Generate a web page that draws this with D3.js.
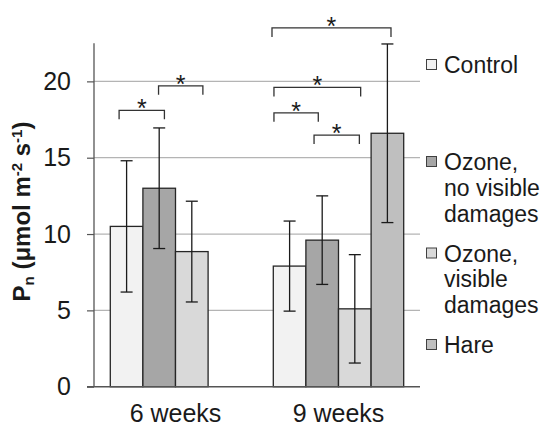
<!DOCTYPE html>
<html>
<head>
<meta charset="utf-8">
<script src="https://cdn.jsdelivr.net/npm/d3@7"></script>
<style>
  html, body { margin: 0; padding: 0; background: #fff; }
  svg { display: block; }
  text { font-family: "Liberation Sans", Arial, sans-serif; fill: #1a1a1a; }
</style>
</head>
<body>
<svg id="chart" width="553" height="428"></svg>
<script>
// ---------- data ----------
const categories = ["6 weeks", "9 weeks"];
const seriesNames = ["Control", "Ozone, no visible damages", "Ozone, visible damages", "Hare"];
const legendLines = [["Control"], ["Ozone,", "no visible", "damages"], ["Ozone,", "visible", "damages"], ["Hare"]];
const control = [10.5, 7.9];
const ozoneNoVisible = [13.0, 9.6];
const ozoneVisible = [8.85, 5.1];
const hare = [null, 16.6];
const controlErr = [4.3, 2.95];
const ozoneNoVisibleErr = [3.95, 2.9];
const ozoneVisibleErr = [3.3, 3.55];
const hareErr = [null, 5.85];
const yTicks = [0, 5, 10, 15, 20];
// significance brackets: category, span in bar units within the group, level in Pn units
const bracketCat = [0, 0, 1, 1, 1, 1];
const bracketFrom = [0.27, 1.48, -0.04, 0.02, 0.02, 1.25];
const bracketTo = [1.66, 2.84, 3.61, 2.68, 1.38, 2.64];
const bracketLevel = [18.1, 19.71, 23.5, 19.6, 17.94, 16.48];
const bracketLabel = ["*", "*", "*", "*", "*", "*"];

// ---------- layout ----------
const colors = ["#f2f2f2", "#a6a6a6", "#d9d9d9", "#bfbfbf"];
const plotLeft = 94, plotRight = 420, plotTop = 43.2, plotBottom = 386.7;
const svg = d3.select("#chart");

const values = [control, ozoneNoVisible, ozoneVisible, hare];
const errors = [controlErr, ozoneNoVisibleErr, ozoneVisibleErr, hareErr];

const x = d3.scaleBand().domain(categories).range([plotLeft, plotRight])
  .paddingInner(0.2).paddingOuter(0.1);
const xs = d3.scaleBand().domain(d3.range(seriesNames.length)).range([0, x.bandwidth()]);
const y = d3.scaleLinear().domain([0, 22.5]).range([plotBottom, plotTop]);

// gridlines
svg.append("g").selectAll("line").data(yTicks.filter(d => d > 0)).join("line")
  .attr("x1", plotLeft).attr("x2", plotRight)
  .attr("y1", d => y(d)).attr("y2", d => y(d))
  .attr("stroke", "#b4b4b4").attr("stroke-width", 1.2);

// y axis
const yAxis = svg.append("g").attr("transform", `translate(${plotLeft},0)`)
  .call(d3.axisLeft(y).tickValues(yTicks).tickSize(7).tickPadding(16).tickFormat(d3.format("d")));
yAxis.select(".domain").remove();
yAxis.selectAll(".tick line").attr("stroke", "#555").attr("stroke-width", 1.2);
yAxis.selectAll(".tick text").style("font-size", "25px").attr("fill", "#1a1a1a")
  .style("font-family", "'Liberation Sans', Arial, sans-serif");
svg.append("line").attr("x1", plotLeft).attr("x2", plotLeft)
  .attr("y1", plotTop).attr("y2", plotBottom).attr("stroke", "#555").attr("stroke-width", 1.3);

// bars
const barData = [];
categories.forEach((c, ci) => {
  values.forEach((arr, si) => {
    if (arr[ci] != null) barData.push({ c, ci, si, v: arr[ci], e: errors[si][ci] });
  });
});
svg.append("g").selectAll("rect").data(barData).join("rect")
  .attr("x", d => x(d.c) + xs(d.si))
  .attr("y", d => y(d.v))
  .attr("width", xs.bandwidth())
  .attr("height", d => y(0) - y(d.v))
  .attr("fill", d => colors[d.si])
  .attr("stroke", "#262626").attr("stroke-width", 1.3);

// x axis baseline
svg.append("line").attr("x1", plotLeft - 7).attr("x2", plotRight)
  .attr("y1", y(0)).attr("y2", y(0)).attr("stroke", "#555").attr("stroke-width", 1.4);

// error bars
const eb = svg.append("g").attr("stroke", "#1a1a1a").attr("stroke-width", 1.3);
barData.forEach(d => {
  const cx = x(d.c) + xs(d.si) + xs.bandwidth() / 2;
  eb.append("line").attr("x1", cx).attr("x2", cx).attr("y1", y(d.v + d.e)).attr("y2", y(d.v - d.e));
  eb.append("line").attr("x1", cx - 6).attr("x2", cx + 6).attr("y1", y(d.v + d.e)).attr("y2", y(d.v + d.e));
  eb.append("line").attr("x1", cx - 6).attr("x2", cx + 6).attr("y1", y(d.v - d.e)).attr("y2", y(d.v - d.e));
});

// significance brackets
const bw = xs.bandwidth();
const br = svg.append("g");
bracketCat.forEach((ci, i) => {
  const x0 = x(categories[ci]) + bracketFrom[i] * bw;
  const x1 = x(categories[ci]) + bracketTo[i] * bw;
  const yy = y(bracketLevel[i]);
  br.append("path")
    .attr("d", `M${x0},${yy + 9}V${yy}H${x1}V${yy + 9}`)
    .attr("fill", "none").attr("stroke", "#333").attr("stroke-width", 1.3);
  br.append("text").attr("x", (x0 + x1) / 2).attr("y", yy + 7)
    .attr("text-anchor", "middle").style("font-size", "25px").text(bracketLabel[i]);
});

// category labels
svg.append("g").selectAll("text").data(categories).join("text")
  .attr("x", d => x(d) + x.bandwidth() / 2).attr("y", 422)
  .attr("text-anchor", "middle").style("font-size", "25px").text(d => d);

// y axis title
const yt = svg.append("text")
  .attr("transform", "translate(29.5,211.5) rotate(-90)")
  .attr("text-anchor", "middle").style("font-size", "24px").style("font-weight", "bold");
yt.append("tspan").text("P");
yt.append("tspan").attr("baseline-shift", "-25%").style("font-size", "15px").text("n");
yt.append("tspan").text(" (μmol m");
yt.append("tspan").attr("baseline-shift", "super").style("font-size", "15px").text("-2");
yt.append("tspan").text(" s");
yt.append("tspan").attr("baseline-shift", "super").style("font-size", "15px").text("-1");
yt.append("tspan").text(")");

// legend
const legendBaseline = [73, 170, 261.5, 353];
const lg = svg.append("g");
legendLines.forEach((lines, i) => {
  const by = legendBaseline[i];
  lg.append("rect").attr("x", 426.5).attr("y", by - 13.5).attr("width", 10).attr("height", 10)
    .attr("fill", colors[i]).attr("stroke", "#404040").attr("stroke-width", 1);
  lines.forEach((ln, j) => {
    lg.append("text").attr("x", 444).attr("y", by + j * 25.8)
      .style("font-size", "23px").text(ln);
  });
});
</script>
</body>
</html>
